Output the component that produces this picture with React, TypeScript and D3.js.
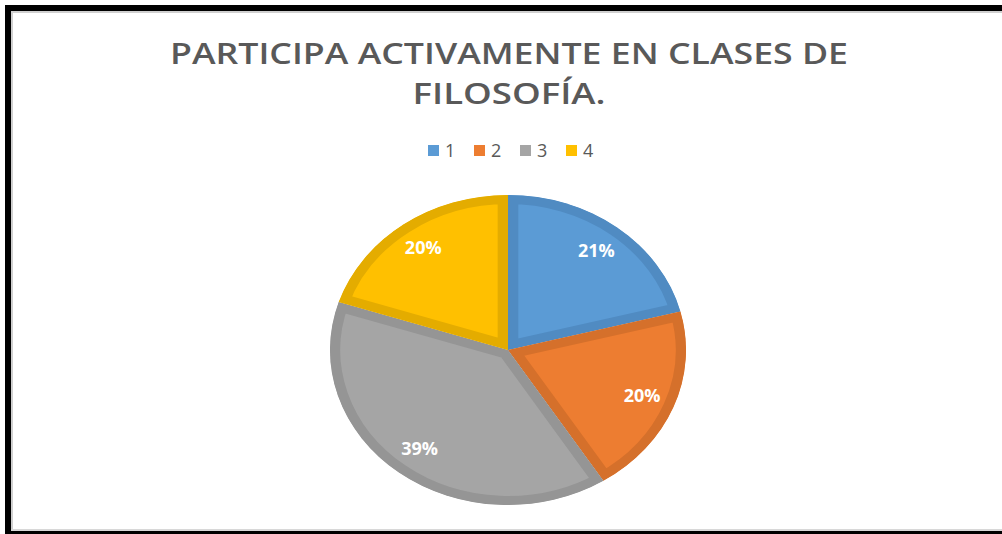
import React from 'react';
import * as d3 from 'd3';

const categories = ['1', '2', '3', '4'];
const values = [21, 20, 39, 20];
const labels = ['21%', '20%', '39%', '20%'];
const fills = ['#5B9BD5', '#ED7D31', '#A5A5A5', '#FFC000'];
const strokes = ['#508BC2', '#D5702B', '#959595', '#E4AC00'];
const titleLines = ['PARTICIPA ACTIVAMENTE EN CLASES DE', 'FILOSOFÍA.'];

const W = 1002;
const H = 534;

function Frame() {
    return (
        <g>
            <rect x={5} y={5} width={W - 5} height={6} fill="#000" />
            <rect x={5} y={5} width={6} height={H - 5} fill="#000" />
            <rect x={5} y={H - 3} width={W - 5} height={3} fill="#000" />
            <rect x={11} y={11} width={W - 11} height={2} fill="#d0d0d0" />
            <rect x={11} y={11} width={2} height={H - 14} fill="#d0d0d0" />
            <rect x={11} y={H - 5} width={W - 11} height={2} fill="#d8d8d8" />
        </g>
    )
}

function Legend({x, y}) {
    const step = 46;
    return (
        <g transform={`translate(${x}, ${y})`}>
            {categories.map((c, i) =>
                <g key={`Legend_${i}`} transform={`translate(${i * step}, 0)`}>
                    <rect x={0} y={-11} width={11} height={11} fill={fills[i]} />
                    <text x={17} y={1} fill="#595959" fontFamily="Open Sans" fontSize={18}>{c}</text>
                </g>
            )}
        </g>
    )
}

function Pie({cx, cy, rx, ry}) {
    const R = ry;
    const sw = 9; // visible border, drawn inside each slice
    const pie = d3.pie<number>().sort(null);
    const arc = d3.arc<d3.PieArcDatum<number>>().innerRadius(0).outerRadius(R);
    const labelArc = d3.arc<d3.PieArcDatum<number>>().innerRadius(R * 0.81).outerRadius(R * 0.81);
    const arcs = pie(values);
    const sx = rx / ry;

    return (
        <g transform={`translate(${cx}, ${cy})`}>
            <defs>
                {arcs.map((a, i) =>
                    <clipPath key={`Clip_${i}`} id={`slice-clip-${i}`}>
                        <path d={arc(a) || ''} />
                    </clipPath>
                )}
            </defs>
            <g transform={`scale(${sx}, 1)`}>
                {arcs.map((a, i) =>
                    <path key={`Arc_${i}`} d={arc(a) || ''} fill={fills[i]} stroke={strokes[i]} strokeWidth={sw * 2} clipPath={`url(#slice-clip-${i})`} />
                )}
            </g>
            {arcs.map((a, i) => {
                const [lx, ly] = labelArc.centroid(a);
                return (
                    <text key={`Label_${i}`} x={lx * sx} y={ly + 6} textAnchor="middle" fill="#fff" fontFamily="Open Sans" fontWeight="bold" fontSize={18}>{labels[i]}</text>
                )
            })}
        </g>
    )
}

export default function App() {
    return (
        <svg width={W} height={H} xmlns="http://www.w3.org/2000/svg" style={{position: 'absolute', left: 0, top: 0, background: '#fff'}}>
            <Frame />
            <text x={509} y={64} textAnchor="middle" fill="#595959" fontFamily="Open Sans" fontWeight={600} fontSize={29} textLength={678} lengthAdjust="spacingAndGlyphs">{titleLines[0]}</text>
            <text x={509} y={104} textAnchor="middle" fill="#595959" fontFamily="Open Sans" fontWeight={600} fontSize={29} textLength={193} lengthAdjust="spacingAndGlyphs">{titleLines[1]}</text>
            <Legend x={428} y={156} />
            <Pie cx={508} cy={350} rx={178} ry={155} />
        </svg>
    )
}
